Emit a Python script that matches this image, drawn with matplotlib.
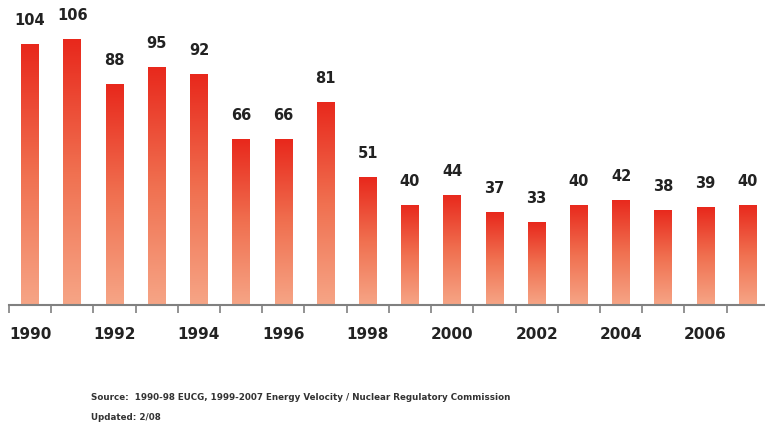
import numpy as np
import matplotlib.pyplot as plt
from matplotlib.colors import LinearSegmentedColormap

years = list(range(1990, 2008))
values = [104, 106, 88, 95, 92, 66, 66, 81, 51, 40, 44, 37, 33, 40, 42, 38, 39, 40]
year_labels = [str(y) if y % 2 == 0 else "" for y in years]

plt.rcParams['font.family'] = ['DejaVu Sans']

fig = plt.figure(figsize=(7.65, 4.22), dpi=100)
W, H = 765, 422
# axes: left edge = first tick, bottom = axis line
ax = fig.add_axes([9 / W, (H - 305) / H, (W - 9) / W, 276 / H])

x = np.arange(len(values))
bars = ax.bar(x, values, width=0.42, color='none', edgecolor='none')

# vertical red -> salmon gradient inside each bar
cmap = LinearSegmentedColormap.from_list('bar', ['#f6a586', '#f07050', '#e8281c'])
grad = np.linspace(0, 1, 256).reshape(-1, 1)
for b in bars:
    x0 = b.get_x()
    h = b.get_height()
    im = ax.imshow(grad, extent=(x0, x0 + b.get_width(), 0, h), origin='lower',
                   cmap=cmap, aspect='auto', zorder=2)
    im.set_clip_path(b)
    ax.annotate(str(int(h)), (x0 + b.get_width() / 2, h), xytext=(0, 11.5),
                textcoords='offset points', ha='center', va='bottom',
                fontsize=10.5, fontweight='bold', color='#222222', annotation_clip=False)

ax.set_xlim(-0.5, 17.41)
ax.set_ylim(0, 110)

for s in ['top', 'right', 'left']:
    ax.spines[s].set_visible(False)
ax.spines['bottom'].set_color('#808080')
ax.spines['bottom'].set_linewidth(1.5)
ax.set_yticks([])

# ticks sit between bars, labels under the bars
ax.set_xticks(np.arange(-0.5, 17.5, 1))
ax.set_xticklabels([])
ax.tick_params(axis='x', which='major', length=6, width=1.2, color='#808080', direction='out')
ax.set_xticks(x, minor=True)
ax.set_xticklabels(year_labels, minor=True, fontsize=11, fontweight='bold', color='#222222')
ax.tick_params(axis='x', which='minor', length=0, pad=16)

fig.text(91 / W, 1 - 398 / H, "Source:  1990-98 EUCG, 1999-2007 Energy Velocity / Nuclear Regulatory Commission",
         fontsize=6.3, fontweight='bold', color='#333333', va='center')
fig.text(91 / W, 1 - 418 / H, "Updated: 2/08", fontsize=6.3, fontweight='bold', color='#333333', va='center')

fig.savefig('out.png', dpi=100)
